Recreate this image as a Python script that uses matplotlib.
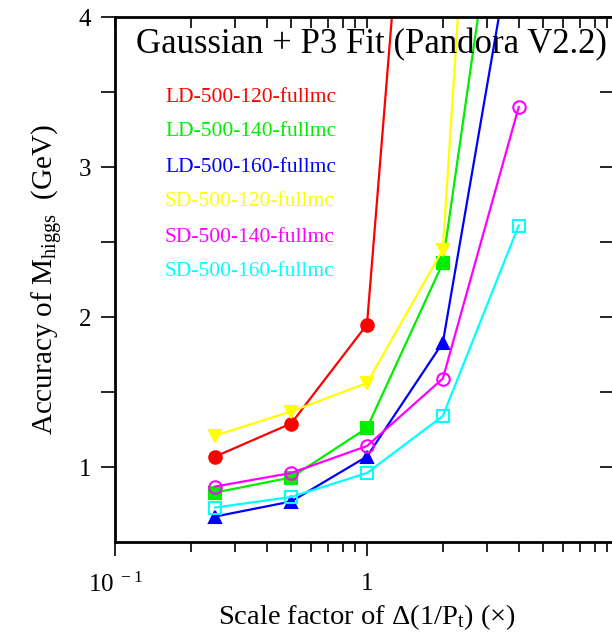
import numpy as np
import matplotlib
matplotlib.use("Agg")
import matplotlib.pyplot as plt
from matplotlib.ticker import LogLocator, FixedLocator, NullFormatter

plt.rcParams['font.family'] = ['Liberation Serif', 'DejaVu Serif']
plt.rcParams['mathtext.fontset'] = 'custom'
plt.rcParams['mathtext.rm'] = 'Liberation Serif'
plt.rcParams['mathtext.it'] = 'Liberation Serif'

# scale factors
scale = [0.25, 0.5, 1, 2, 4]

# accuracy of M_higgs (GeV)
ld120 = [1.07, 1.29, 1.95, 8.2]
ld140 = [0.83, 0.93, 1.26, 2.36, 5.9]
ld160 = [0.67, 0.77, 1.07, 1.83, 4.77]
sd120 = [1.21, 1.37, 1.56, 2.45, 10.3]
sd140 = [0.87, 0.96, 1.14, 1.59, 3.40]
sd160 = [0.73, 0.80, 0.96, 1.34, 2.61]

labels = ["LD-500-120-fullmc", "LD-500-140-fullmc", "LD-500-160-fullmc",
          "SD-500-120-fullmc", "SD-500-140-fullmc", "SD-500-160-fullmc"]
series = [ld120, ld140, ld160, sd120, sd140, sd160]
colors = ["#ff0000", "#00ee00", "#0000ff", "#ffff00", "#ff00ff", "#00ffff"]
markers = ["o", "s", "^", "v", "o", "s"]
filled = [True, True, True, True, False, False]

fig = plt.figure(figsize=(6.12, 6.34), dpi=100)
ax = fig.add_axes([115/612, 1 - 542/634, 504/612, 525/634])

for vals, c, m, f in zip(series, colors, markers, filled):
    x = scale[:len(vals)]
    ax.plot(x, vals, color=c, lw=1.6, marker=m, markersize=9,
            markerfacecolor=c if f else 'none', markeredgecolor=c,
            markeredgewidth=1.5)

ax.set_xscale('log')
ax.set_xlim(0.1, 10)
ax.set_ylim(0.5, 4)

ax.xaxis.set_major_locator(FixedLocator([0.1, 1]))
ax.set_xticklabels(["10$^{\\,\\,-1}$", "1"])
ax.xaxis.set_minor_locator(LogLocator(base=10, subs=np.arange(2, 10)))
ax.xaxis.set_minor_formatter(NullFormatter())
ax.yaxis.set_major_locator(FixedLocator([1, 2, 3, 4]))
ax.yaxis.set_minor_locator(FixedLocator([1.5, 2.5, 3.5]))

for s in ax.spines.values():
    s.set_linewidth(2)

ax.tick_params(axis='both', which='both', width=1.2, labelsize=18)
ax.tick_params(axis='x', which='major', direction='out', length=10, pad=12, top=False)
ax.tick_params(axis='x', which='minor', direction='out', length=7, top=False)
ax.tick_params(axis='y', which='major', direction='out', length=10, pad=7, right=False)
ax.tick_params(axis='y', which='minor', direction='out', length=10, right=False)

# inward ticks on the top and right sides
axt = ax.secondary_xaxis('top')
axt.xaxis.set_major_locator(FixedLocator([0.1, 1, 10]))
axt.xaxis.set_minor_locator(LogLocator(base=10, subs=np.arange(2, 10)))
axt.tick_params(which='both', direction='in', length=8, width=1.2, labeltop=False)
axt.xaxis.set_major_formatter(NullFormatter())
axt.xaxis.set_minor_formatter(NullFormatter())
axr = ax.secondary_yaxis('right')
axr.yaxis.set_major_locator(FixedLocator([1, 1.5, 2, 2.5, 3, 3.5, 4]))
axr.tick_params(direction='in', length=14, width=1.2, labelright=False)
axr.yaxis.set_major_formatter(NullFormatter())

ax.set_xlabel("Scale factor of $\\Delta$(1/P$_{\\rm t}$) (×)", fontsize=20.5, labelpad=4)
ax.set_ylabel("Accuracy of M$_{\\rm higgs}$  (GeV)", fontsize=21, labelpad=10)

ax.text(0.976, 0.978, "Gaussian + P3 Fit (Pandora V2.2)", transform=ax.transAxes,
        ha='right', va='top', fontsize=25)

for i, (lab, c) in enumerate(zip(labels, colors)):
    fig.text(165/612, 1 - (97 + 35 * i)/634, lab, color=c, fontsize=15.5,
             va='center', ha='left')

fig.savefig("out.png", dpi=100)
